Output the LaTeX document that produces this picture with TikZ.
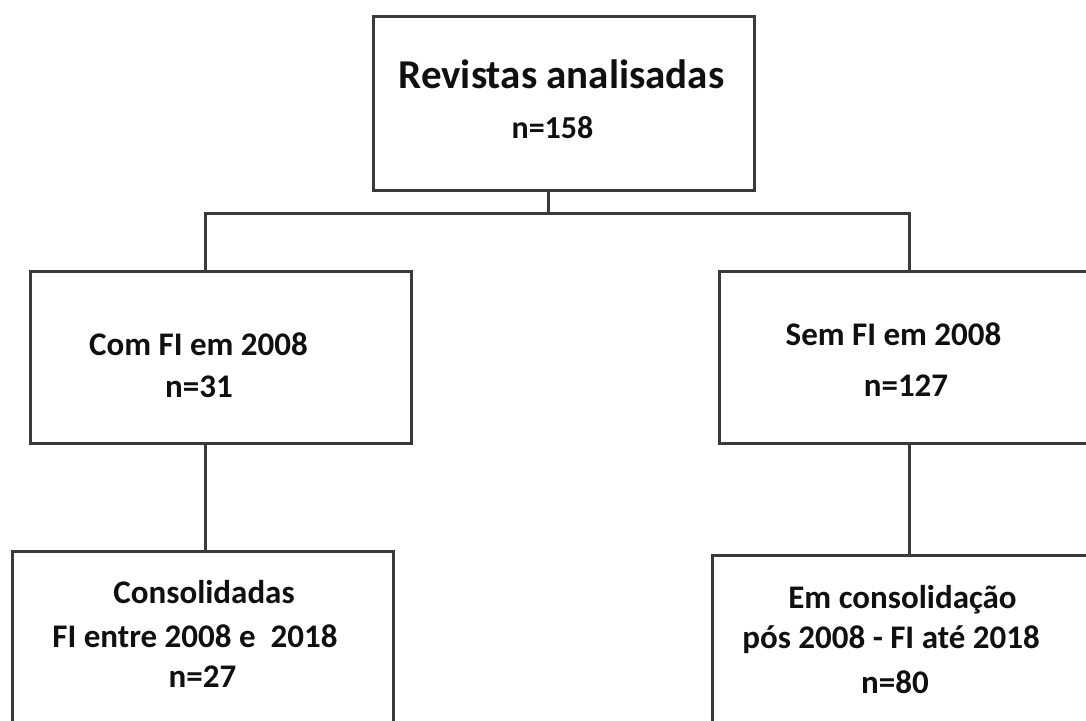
\documentclass[tikz,border=0pt]{standalone}
\usepackage{fontspec}
\setmainfont{Carlito}
\definecolor{linegray}{HTML}{3A3A3A}
\definecolor{inkcol}{HTML}{101010}
\begin{document}
\begin{tikzpicture}[x=1pt,y=-1pt,
  boxnode/.style={draw=linegray,line width=3pt,rectangle,inner sep=0pt,outer sep=0pt},
  conn/.style={draw=linegray,line width=3pt},
  txt/.style={text=inkcol,font=\bfseries\fontsize{33}{40}\selectfont,anchor=base,inner sep=0pt},
  ttl/.style={txt,font=\bfseries\fontsize{41}{49}\selectfont}]
\useasboundingbox (0,0) rectangle (1086,720);
\clip (0,0) rectangle (1086,720);
% boxes
\node[boxnode,minimum width=381pt,minimum height=174pt] (top) at (563.5,103) {};
\node[boxnode,minimum width=381pt,minimum height=172pt] (left) at (220.5,357) {};
\node[boxnode,minimum width=381pt,minimum height=172pt] (right) at (909.5,357) {};
\node[boxnode,minimum width=381pt,minimum height=184pt] (bl) at (202.5,643) {};
\node[boxnode,minimum width=394pt,minimum height=185pt] (br) at (909,647.5) {};
% connectors
\coordinate (j) at (548,213);
\coordinate (hl) at (205,213);
\coordinate (hr) at (909,213);
\draw[conn] (top.south -| j) -- (j);
\draw[conn,line cap=rect] (hl) -- (hr);
\draw[conn] (hl) -- (left.north -| hl);
\draw[conn] (hr) -- (right.north -| hr);
\draw[conn] (left.south -| hl) -- (bl.north -| hl);
\draw[conn] (right.south -| hr) -- (br.north -| hr);
% texts
\node[ttl] (t1) at (561.5,88) {Revistas analisadas};
\node[txt,font=\bfseries\fontsize{32}{38}\selectfont] (t2) at (552.5,138) {n=158};
\node[txt] (l1) at (198.5,355) {Com FI em 2008};
\node[txt] (l2) at (199,397) {n=31};
\node[txt] (r1) at (893.5,345) {Sem FI em 2008};
\node[txt] (r2) at (906,396) {n=127};
\node[txt] (b1) at (204,603) {Consolidadas};
\node[txt] (b2) at (195,647) {FI entre 2008 e\ \ 2018};
\node[txt] (b3) at (202.5,687) {n=27};
\node[txt] (c1) at (902.5,608) {Em consolidação};
\node[txt] (c2) at (891,648) {pós 2008 - FI até 2018};
\node[txt] (c3) at (895,693) {n=80};
\end{tikzpicture}
\end{document}
